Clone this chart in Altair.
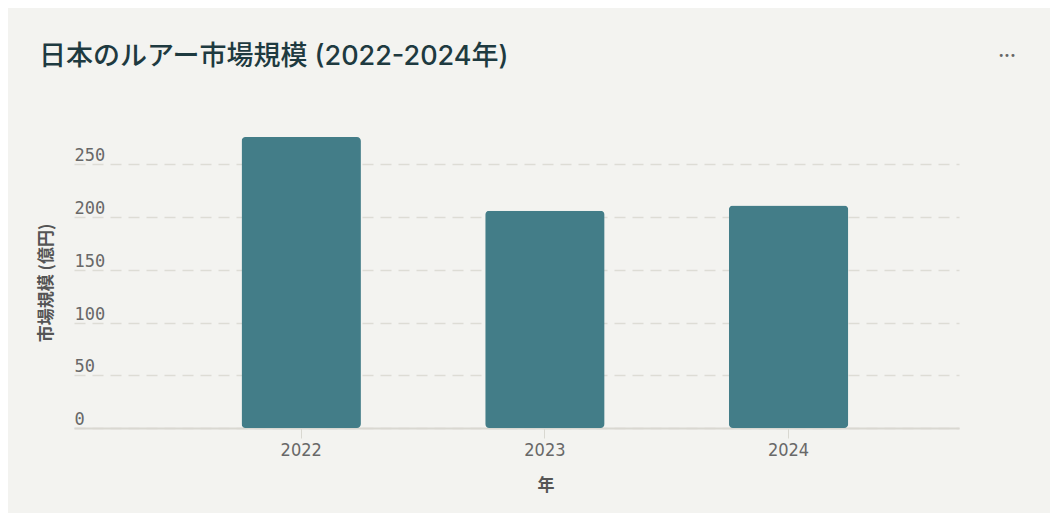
import altair as alt
import pandas as pd

# ---- data ----
years = ["2022", "2023", "2024"]
market_size = [276, 206, 211]          # 億円
y_tick_values = [0, 50, 100, 150, 200, 250]
title_text = "日本のルアー市場規模 (2022-2024年)"
x_title = "年"
y_title = "市場規模 (億円)"

df = pd.DataFrame({"年": years, "市場規模": market_size})
menu_df = pd.DataFrame({"t": ["•••"]})

PLOT_W, PLOT_H = 885, 291
BG = "#f3f3f0"
BAR = "#437d88"
AXIS_GRAY = "#d9d8d1"
LABEL_GRAY = "#686868"
TITLE_GRAY = "#555555"

bars = alt.Chart(df).mark_bar(color=BAR, cornerRadius=4).encode(
    x=alt.X(
        "年:N",
        sort=years,
        scale=alt.Scale(paddingInner=0.51, paddingOuter=0.571, align=0.602),
        axis=alt.Axis(
            title=x_title,
            labelAngle=0,
            domainColor=AXIS_GRAY,
            domainWidth=2,
            tickColor=AXIS_GRAY,
            tickSize=10,
            tickWidth=1,
            labelFont="Liberation Sans Narrow, DejaVu Sans Condensed, sans-serif",
            labelFontSize=18,
            labelColor=LABEL_GRAY,
            labelPadding=3,
            titleFont="Noto Sans CJK JP",
            titleFontSize=17,
            titleFontWeight="bold",
            titleColor=TITLE_GRAY,
            titleX=471.5,
            titleY=57.5,
            titleBaseline="middle",
            titleAlign="center",
        ),
    ),
    y=alt.Y(
        "市場規模:Q",
        scale=alt.Scale(domain=[0, max(market_size)], nice=False, zero=True),
        axis=alt.Axis(
            title=y_title,
            values=y_tick_values,
            domain=False,
            ticks=False,
            grid=True,
            gridDash=[11, 7],
            gridColor="#dddcd5",
            gridWidth=1.5,
            labelAlign="left",
            labelPadding=0,
            labelBaseline="alphabetic",
            labelOffset=-3.5,
            labelFont="DejaVu Sans Mono",
            labelFontSize=17,
            labelColor=LABEL_GRAY,
            titleFont="Noto Sans CJK JP",
            titleFontSize=17,
            titleFontWeight="bold",
            titleColor=TITLE_GRAY,
            titleX=-27.5,
            titleY=PLOT_H / 2,
            titleBaseline="middle",
            titleAlign="center",
        ),
    ),
)

menu = alt.Chart(menu_df).mark_text(
    fontSize=10, color="#666666", align="center", baseline="middle", font="DejaVu Sans"
).encode(x=alt.value(933), y=alt.value(-81), text="t:N")

chart = (
    alt.layer(bars, menu)
    .properties(
        width=PLOT_W,
        height=PLOT_H,
        autosize=alt.AutoSizeParams(type="none"),
        padding={"left": 66, "right": 91, "top": 129, "bottom": 85},
        background=BG,
        title=alt.TitleParams(
            text=title_text,
            anchor="start",
            frame="group",
            font="Inter, Noto Sans CJK JP",
            fontSize=27,
            fontWeight=500,
            color="#1e3a40",
            baseline="alphabetic",
            offset=-41,
            dx=-35,
        ),
    )
    .configure_view(stroke=None)
)

chart.save("out.html", embed_options={"renderer": "svg", "actions": False})
